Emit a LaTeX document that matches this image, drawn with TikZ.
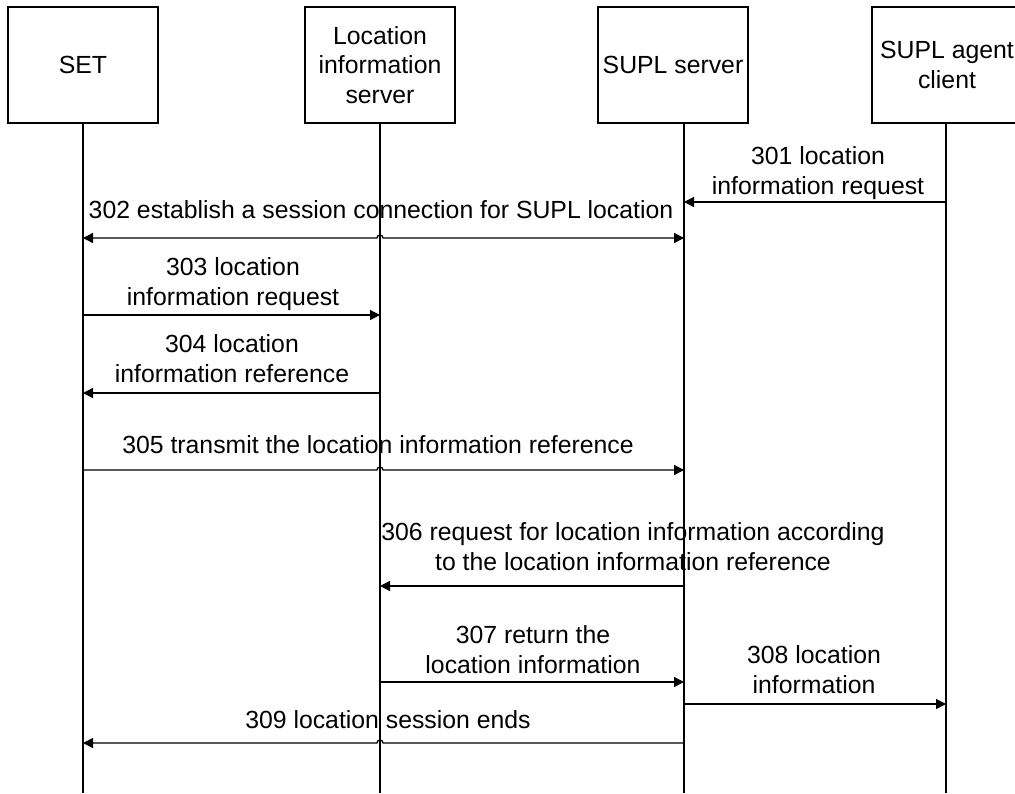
\documentclass[tikz,border=0pt]{standalone}
\usepackage{fontspec}
\setmainfont{Liberation Sans}
\usetikzlibrary{arrows.meta}
\tikzset{
	>={Triangle[length=5pt,width=5pt]},
	actor/.style={draw, line width=0.65pt, minimum width=75pt, minimum height=58pt, align=center, inner sep=0pt},
	life/.style={line width=0.65pt},
	msg/.style={line width=0.65pt, ->},
	lbl/.style={align=center, anchor=base, inner sep=0pt},
}
\begin{document}
\begin{tikzpicture}[x=0.5pt, y=-0.5pt, font=\fontsize{12.4}{14.7}\selectfont]
	\useasboundingbox (0,0) rectangle (1015,793);
	\node[actor] (set) at (83,65) {SET};
	\node[actor] (lis) at (380,65) {Location\\information\\server};
	\node[actor] (srv) at (673,65) {SUPL server};
	\node[actor] (agt) at (947,65) {SUPL agent\\client};
	\coordinate (setE) at (83,793);
	\coordinate (lisE) at (380,793);
	\coordinate (srvE) at (684,793);
	\coordinate (agtE) at (946,793);
	\draw[life] (set.south) -- (setE);
	\draw[life] (lisE |- lis.south) -- (lisE);
	\draw[life] (srvE |- srv.south) -- (srvE);
	\draw[life] (agtE |- agt.south) -- (agtE);
	\draw[msg] (agtE |- 0,202) -- (srvE |- 0,202);
	\node[lbl] (m301) at (818,194) {301 location\\information request};
	\draw[msg, <->] (setE |- 0,238) -- ([xshift=-1.5pt]lisE |- 0,238) arc[start angle=180, end angle=0, radius=1.5pt] -- (srvE |- 0,238);
	\node[lbl] (m302) at (381,218) {302 establish a session connection for SUPL location};
	\draw[msg] (setE |- 0,315) -- (lisE |- 0,315);
	\node[lbl] (m303) at (233,305) {303 location\\information request};
	\draw[msg] (lisE |- 0,393) -- (setE |- 0,393);
	\node[lbl] (m304) at (232,382) {304 location\\information reference};
	\draw[msg] (setE |- 0,470) -- ([xshift=-1.5pt]lisE |- 0,470) arc[start angle=180, end angle=0, radius=1.5pt] -- (srvE |- 0,470);
	\node[lbl] (m305) at (378,453) {305 transmit the location information reference};
	\draw[msg] (srvE |- 0,586) -- (lisE |- 0,586);
	\node[lbl] (m306) at (633,570) {306 request for location information according\\to the location information reference};
	\draw[msg] (lisE |- 0,682) -- (srvE |- 0,682);
	\node[lbl] (m307) at (533,673) {307 return the\\location information};
	\draw[msg] (srvE |- 0,704) -- (agtE |- 0,704);
	\node[lbl] (m308) at (814,693) {308 location\\information};
	\draw[msg] (srvE |- 0,743) -- ([xshift=1.5pt]lisE |- 0,743) arc[start angle=0, end angle=180, radius=1.5pt] -- (setE |- 0,743);
	\node[lbl] (m309) at (388,728) {309 location session ends};
\end{tikzpicture}
\end{document}
